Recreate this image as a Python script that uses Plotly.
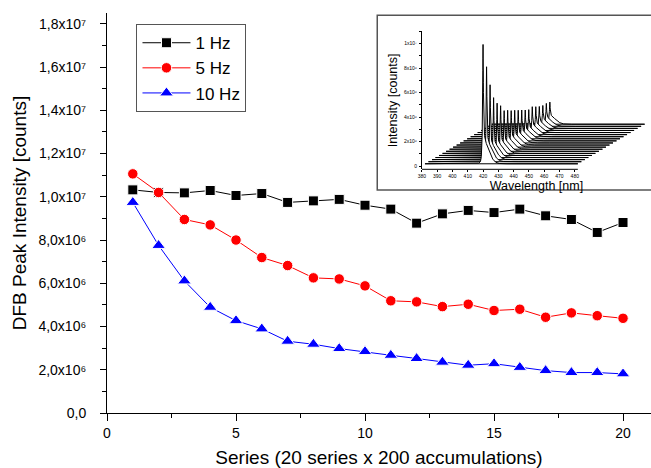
import numpy as np
import plotly.graph_objects as go

# ---- data -------------------------------------------------------------
series = list(range(1, 21))

hz1 = [1.032e7, 1.020e7, 1.018e7, 1.029e7, 1.006e7, 1.015e7, 9.74e6, 9.81e6, 9.88e6, 9.61e6,
       9.43e6, 8.78e6, 9.21e6, 9.37e6, 9.27e6, 9.43e6, 9.12e6, 8.95e6, 8.35e6, 8.81e6]
hz5 = [1.106e7, 1.020e7, 8.95e6, 8.70e6, 8.00e6, 7.19e6, 6.82e6, 6.25e6, 6.20e6, 5.88e6,
       5.19e6, 5.14e6, 4.92e6, 5.03e6, 4.74e6, 4.80e6, 4.43e6, 4.63e6, 4.50e6, 4.38e6]
hz10 = [9.74e6, 7.75e6, 6.11e6, 4.89e6, 4.27e6, 3.89e6, 3.32e6, 3.18e6, 2.98e6, 2.84e6,
        2.67e6, 2.52e6, 2.35e6, 2.21e6, 2.28e6, 2.11e6, 1.96e6, 1.87e6, 1.87e6, 1.81e6]

y_tickvals = [0, 2e6, 4e6, 6e6, 8e6, 1.0e7, 1.2e7, 1.4e7, 1.6e7, 1.8e7]
y_ticktext = ["0,0", "2,0x10⁶", "4,0x10⁶", "6,0x10⁶", "8,0x10⁶",
              "1,0x10⁷", "1,2x10⁷", "1,4x10⁷", "1,6x10⁷", "1,8x10⁷"]
x_tickvals = [0, 5, 10, 15, 20]

# inset: waterfall of the 10 Hz spectra (peak heights = hz10)
inset_peak_nm = 420.0
inset_x_ticks = [380, 390, 400, 410, 420, 430, 440, 450, 460, 470, 480]
inset_y_tickvals = [0, 2e6, 4e6, 6e6, 8e6, 1e7]
inset_y_ticktext = ["0", "2x10⁶", "4x10⁶", "6x10⁶", "8x10⁶", "1x10⁷"]

FONT = "Arial, Liberation Sans, sans-serif"

# ---- geometry (pixels) -----------------------------------------------
W, H = 651, 468
L, R, T, B = 106.5, 0, 12.8, 54.7
pw, ph = W - L - R, H - T - B


def px_x(p):
    return (p - L) / pw


def px_y(p):
    return (H - B - p) / ph


fig = go.Figure()

styles = [
    ("1 Hz", hz1, "black", "square", 10),
    ("5 Hz", hz5, "red", "circle", 10.5),
    ("10 Hz", hz10, "blue", "triangle-up", 12),
]
for name, vals, col, sym, size in styles:
    fig.add_trace(go.Scatter(
        x=series, y=vals, name=name, mode="lines+markers",
        line=dict(color=col, width=1),
        marker=dict(symbol=sym, size=size, color=col, line=dict(color="white", width=1)),
    ))

# ---- inset spectra ----------------------------------------------------
lam = np.linspace(382, 482, 2001)
d = lam - inset_peak_nm
dx_nm, dy_cnt, bg = 2.3, 1.7e5, 2.0e5
for i in reversed(range(len(hz10))):
    A = hz10[i]
    S = 0.15 * A + 0.4e6
    shoulder = np.where(d >= 0, S * np.exp(-(d / 5.0) ** 2), S * np.exp(-(d / 0.8) ** 2))
    spec = bg + (A - S) / (1 + (d / 0.25) ** 2) + shoulder
    xs = lam + i * dx_nm
    ys = spec + i * dy_cnt
    xp = np.concatenate([xs, xs[::-1]])
    yp = np.concatenate([ys, np.full_like(xs, bg + i * dy_cnt)])
    fig.add_trace(go.Scatter(
        x=xp, y=yp, xaxis="x2", yaxis="y2", mode="lines", fill="toself",
        fillcolor="white", line=dict(color="black", width=1), showlegend=False,
        hoverinfo="skip",
    ))

inset_x0, inset_y_top, inset_y_bot = 421.7, 31.3, 169.3
inset_xrange = [380, 380 + (W - inset_x0) / 1.53]
inset_yrange = [-0.25e6, 1.1e7]

fig.update_layout(
    width=W, height=H,
    margin=dict(l=L, r=R, t=T, b=B, pad=0),
    paper_bgcolor="white", plot_bgcolor="rgba(0,0,0,0)",
    font=dict(family=FONT, color="black"),
    xaxis=dict(
        range=[0, (W - L) / 25.825], showline=True, linecolor="black", linewidth=1,
        mirror=False, showgrid=False, zeroline=False,
        tickvals=x_tickvals, ticks="outside", ticklen=7, tickwidth=1, tickcolor="black",
        tickfont=dict(size=14),
        minor=dict(tickvals=[2.5, 7.5, 12.5, 17.5], ticks="outside", ticklen=4,
                   tickcolor="black", tickwidth=1),
        title=dict(text="Series (20 series x 200 accumulations)", font=dict(size=19), standoff=10),
    ),
    yaxis=dict(
        range=[0, 1.85e7], showline=True, linecolor="black", linewidth=1,
        mirror=False, showgrid=False, zeroline=False,
        tickvals=y_tickvals, ticktext=y_ticktext, ticks="outside", ticklen=6, tickwidth=1,
        tickcolor="black", tickfont=dict(size=14), ticklabelstandoff=11,
        minor=dict(dtick=1e6, ticks="outside", ticklen=4, tickcolor="black", tickwidth=1),
        title=dict(text="DFB Peak Intensity [counts]", font=dict(size=19), standoff=6),
    ),
    xaxis2=dict(
        domain=[px_x(inset_x0), 1.0], anchor="y2", range=inset_xrange,
        showline=False, showgrid=False, zeroline=False,
        tickvals=inset_x_ticks, ticks="outside", ticklen=2, tickwidth=0.6, tickcolor="black",
        tickfont=dict(size=5), ticklabelstandoff=0,
        title=dict(text="Wavelength [nm]", font=dict(size=12.5), standoff=0),
    ),
    yaxis2=dict(
        domain=[px_y(inset_y_bot), px_y(inset_y_top)], anchor="x2", range=inset_yrange,
        showline=True, linecolor="black", linewidth=1, showgrid=False, zeroline=False,
        tickvals=inset_y_tickvals, ticktext=inset_y_ticktext, ticks="outside", ticklen=2,
        tickwidth=0.6, tickcolor="black", tickfont=dict(size=5), ticklabelstandoff=1,
        minor=dict(dtick=1e6, ticks="outside", ticklen=1.5, tickcolor="black", tickwidth=0.6),
        title=dict(text="Intensity [counts]", font=dict(size=12.5), standoff=3),
    ),
    legend=dict(
        x=px_x(136), y=px_y(24), xanchor="left", yanchor="top",
        bgcolor="white", bordercolor="#555", borderwidth=1,
        font=dict(size=17), itemwidth=48, tracegroupgap=0,
    ),
    shapes=[
        # inset frame
        dict(type="rect", xref="paper", yref="paper",
             x0=px_x(377), x1=1.05, y0=px_y(190), y1=px_y(15),
             line=dict(color="#555", width=1.5), fillcolor="rgba(0,0,0,0)", layer="above"),
        # inset wavelength axis line (front plane)
        dict(type="line", xref="x2", yref="y2 domain", x0=380, x1=482, y0=0, y1=0,
             line=dict(color="black", width=1)),
    ],
)

fig.write_html("out.html")
